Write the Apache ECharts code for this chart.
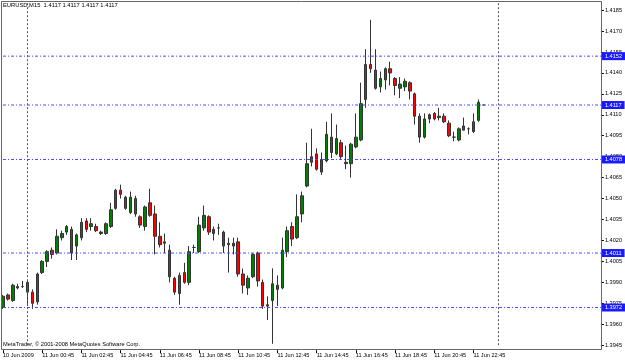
<!DOCTYPE html>
<html lang="en" style="height: 100%">

<head>
  <meta charset="utf-8">
</head>

<body style="height: 100%; margin: 0; background: #fff">
  <div id="container" style="width: 625px; height: 363px"></div>

  <script type="text/javascript" src="https://fastly.jsdelivr.net/npm/echarts@6.0.0/dist/echarts.min.js"></script>

  <script type="text/javascript">
    // EURUSD M15, bars from 10 Jun 2009 22:45 to 11 Jun 23:15
    var opens = [
      1.3972, 1.3981, 1.3977, 1.3987, 1.3987, 1.3990, 1.3983, 1.3976, 1.3997, 1.4005,
      1.4013, 1.4011, 1.4022, 1.4026, 1.4028, 1.4016, 1.4022, 1.4034, 1.4030, 1.4030,
      1.4026, 1.4025, 1.4030, 1.4043, 1.4056, 1.4051, 1.4040, 1.4050, 1.4037, 1.4030,
      1.4047, 1.4039, 1.4023, 1.4019, 1.4013, 1.3993, 1.3982, 1.3997, 1.3990, 1.4015,
      1.4012, 1.4029, 1.4037, 1.4025, 1.4029, 1.4026, 1.4018, 1.4018, 1.4019, 1.3996,
      1.3986, 1.3994, 1.4011, 1.3990, 1.3974, 1.3977, 1.3988, 1.3986, 1.4012, 1.4030,
      1.4022, 1.4039, 1.4059, 1.4076, 1.4082, 1.4069, 1.4077, 1.4094, 1.4082, 1.4090,
      1.4076, 1.4075, 1.4087, 1.4092, 1.4121, 1.4146, 1.4142, 1.4130, 1.4135, 1.4143,
      1.4136, 1.4129, 1.4130, 1.4133, 1.4125, 1.4109, 1.4094, 1.4107, 1.4111, 1.4108,
      1.4109, 1.4104, 1.4094, 1.4092, 1.4102, 1.4100, 1.4098, 1.4106, 1.4117
    ];
    var highs = [
      1.3981, 1.3982, 1.3989, 1.3989, 1.3991, 1.3991, 1.3985, 1.3997, 1.4006, 1.4013,
      1.4015, 1.4028, 1.4027, 1.4031, 1.4030, 1.4025, 1.4036, 1.4036, 1.4036, 1.4032,
      1.4027, 1.4033, 1.4047, 1.4057, 1.4060, 1.4052, 1.4055, 1.4052, 1.4038, 1.4045,
      1.4057, 1.4045, 1.4033, 1.4025, 1.4017, 1.3994, 1.3997, 1.4004, 1.4016, 1.4017,
      1.4037, 1.4045, 1.4038, 1.4030, 1.4032, 1.4027, 1.4022, 1.4022, 1.4022, 1.4000,
      1.3995, 1.4011, 1.4012, 1.3992, 1.3980, 1.4000, 1.3995, 1.4022, 1.4030, 1.4033,
      1.4053, 1.4055, 1.4090, 1.4100, 1.4086, 1.4083, 1.4105, 1.4111, 1.4103, 1.4092,
      1.4088, 1.4090, 1.4111, 1.4133, 1.4157, 1.4178, 1.4157, 1.4141, 1.4144, 1.4148,
      1.4137, 1.4137, 1.4136, 1.4134, 1.4126, 1.4111, 1.4111, 1.4111, 1.4112, 1.4115,
      1.4111, 1.4106, 1.4098, 1.4101, 1.4108, 1.4101, 1.4111, 1.4121, 1.4117
    ];
    var lows = [
      1.3971, 1.3977, 1.3976, 1.3985, 1.3986, 1.3973, 1.3971, 1.3974, 1.3996, 1.4001,
      1.4007, 1.4010, 1.4020, 1.4024, 1.4006, 1.4006, 1.4020, 1.4026, 1.4027, 1.4026,
      1.4024, 1.4024, 1.4029, 1.4042, 1.4050, 1.4042, 1.4039, 1.4037, 1.4029, 1.4027,
      1.4037, 1.4010, 1.4015, 1.4011, 1.3990, 1.3981, 1.3974, 1.3989, 1.3988, 1.4011,
      1.4011, 1.4027, 1.4024, 1.4020, 1.4024, 1.4011, 1.3997, 1.4010, 1.3994, 1.3982,
      1.3981, 1.3993, 1.3987, 1.3971, 1.3963, 1.3946, 1.3973, 1.3985, 1.4008, 1.4016,
      1.4021, 1.4033, 1.4058, 1.4073, 1.4070, 1.4067, 1.4076, 1.4079, 1.4081, 1.4078,
      1.4071, 1.4065, 1.4086, 1.4091, 1.4115, 1.4140, 1.4128, 1.4126, 1.4128, 1.4131,
      1.4124, 1.4122, 1.4127, 1.4121, 1.4103, 1.4090, 1.4093, 1.4104, 1.4106, 1.4106,
      1.4104, 1.4094, 1.4091, 1.4091, 1.4099, 1.4096, 1.4097, 1.4105, 1.4117
    ];
    var closes = [
      1.3980, 1.3978, 1.3988, 1.3986, 1.3987, 1.3983, 1.3975, 1.3996, 1.4005, 1.4012,
      1.4010, 1.4023, 1.4025, 1.4030, 1.4011, 1.4024, 1.4033, 1.4028, 1.4032, 1.4027,
      1.4025, 1.4032, 1.4042, 1.4056, 1.4053, 1.4043, 1.4051, 1.4039, 1.4031, 1.4044,
      1.4038, 1.4023, 1.4017, 1.4018, 1.3994, 1.3983, 1.3995, 1.3990, 1.4012, 1.4015,
      1.4031, 1.4038, 1.4026, 1.4028, 1.4029, 1.4016, 1.4017, 1.4016, 1.3996, 1.3988,
      1.3993, 1.4010, 1.3991, 1.3973, 1.3973, 1.3989, 1.3985, 1.4013, 1.4027, 1.4021,
      1.4037, 1.4052, 1.4075, 1.4080, 1.4071, 1.4078, 1.4096, 1.4083, 1.4093, 1.4080,
      1.4075, 1.4089, 1.4094, 1.4118, 1.4146, 1.4143, 1.4129, 1.4136, 1.4143, 1.4140,
      1.4131, 1.4132, 1.4134, 1.4127, 1.4109, 1.4094, 1.4107, 1.4110, 1.4107, 1.4109,
      1.4105, 1.4095, 1.4094, 1.4100, 1.4099, 1.4100, 1.4105, 1.4119, 1.4117
    ];
    // horizontal lines drawn on the chart
    var levels = [1.4152, 1.4117, 1.4078, 1.4011, 1.3972];
    // day separators
    var separators = ['2009.06.11 00:00', '2009.06.12 00:00'];
    var months = ['Jan', 'Feb', 'Mar', 'Apr', 'May', 'Jun', 'Jul', 'Aug', 'Sep', 'Oct', 'Nov', 'Dec'];

    // time slots: the bars plus the empty space on the right of the chart
    var slotCount = 123;
    var start = Date.UTC(2009, 5, 10, 22, 45);
    function pad(n) { return (n < 10 ? '0' : '') + n; }
    var times = [];
    for (var i = 0; i < slotCount; i++) {
      var d = new Date(start + i * 15 * 60000);
      times.push(d.getUTCFullYear() + '.' + pad(d.getUTCMonth() + 1) + '.' + pad(d.getUTCDate()) +
        ' ' + pad(d.getUTCHours()) + ':' + pad(d.getUTCMinutes()));
    }
    function timeLabel(value, index) {
      var p = value.split(/[. :]/);
      var day = parseInt(p[2], 10) + ' ' + months[parseInt(p[1], 10) - 1];
      if (index === 0) return day + ' ' + p[0];
      return day + ' ' + p[3] + ':' + p[4];
    }
    function showTime(index) {
      return index % 8 === 0 && index < opens.length;
    }

    var bars = opens.map(function (o, i) {
      return [o, closes[i], lows[i], highs[i]];
    });

    var font = 'Liberation Sans';
    var dom = document.getElementById('container');
    var myChart = echarts.init(dom, null, { renderer: 'canvas' });

    var separatorMarks = separators.map(function (t) {
      return { xAxis: t };
    });

    // one flat line per level, across the whole time range, value box at the end
    var levelSeries = levels.map(function (v) {
      return {
        type: 'line',
        data: [[times[0], v], [times[slotCount - 1], v]],
        symbol: 'none',
        silent: true,
        z: 3,
        lineStyle: { color: '#4b4bff', type: [3, 2, 1, 2], width: 1 },
        endLabel: {
          show: true,
          formatter: v.toFixed(4),
          distance: 1,
          color: '#fff',
          backgroundColor: '#1a1aff',
          padding: [1, 3, 1, 3],
          fontFamily: font,
          fontSize: 5.6
        }
      };
    });

    var option = {
      animation: false,
      backgroundColor: '#fff',
      title: {
        text: 'EURUSD,M15  1.4117 1.4117 1.4117 1.4117',
        left: 3,
        top: 2,
        padding: 0,
        textStyle: { fontFamily: font, fontSize: 5.8, fontWeight: 'normal', color: '#000' }
      },
      grid: { left: 2.3, right: 23.3, top: 1, bottom: 17.8 },
      xAxis: {
        type: 'category',
        data: times,
        boundaryGap: false,
        offset: 5,
        axisLine: { show: false },
        axisTick: { interval: showTime, length: 3, lineStyle: { color: '#000' } },
        axisLabel: {
          interval: showTime,
          formatter: timeLabel,
          align: 'left',
          margin: 2,
          fontFamily: font,
          fontSize: 5.6,
          color: '#000'
        },
        splitLine: { show: false }
      },
      yAxis: {
        type: 'value',
        position: 'right',
        min: 1.3945,
        max: 1.41915,
        interval: 0.0015,
        scale: true,
        axisLine: { show: false },
        axisTick: { show: true, length: 3, lineStyle: { color: '#000' } },
        axisLabel: {
          showMaxLabel: false,
          margin: 4,
          formatter: function (v) { return v.toFixed(4); },
          fontFamily: font,
          fontSize: 5.6,
          color: '#000'
        },
        splitLine: { show: false }
      },
      graphic: [
        {
          type: 'rect',
          shape: { x: 1.5, y: 1.5, width: 600, height: 348 },
          style: { fill: null, stroke: '#666', lineWidth: 1 },
          silent: true,
          z: 10
        },
        {
          type: 'text',
          left: 3,
          top: 341,
          style: {
            text: 'MetaTrader, \u00a9 2001-2008 MetaQuotes Software Corp.',
            font: '5.7px "Liberation Sans"',
            fill: '#000'
          },
          silent: true
        }
      ],
      series: [
        {
          type: 'candlestick',
          data: bars,
          barWidth: 3,
          itemStyle: {
            color: '#008000',
            color0: '#ff0000',
            borderColor: '#333',
            borderColor0: '#333',
            borderColorDoji: '#333',
            borderWidth: 1
          }
        },
        {
          // day separators
          type: 'line',
          data: [],
          color: '#555',
          markLine: {
            silent: true,
            symbol: 'none',
            animation: false,
            label: { show: false },
            lineStyle: { color: '#555', type: [2, 2], width: 1 },
            data: separatorMarks
          }
        }
      ].concat(levelSeries)
    };

    myChart.setOption(option);
    window.addEventListener('resize', myChart.resize);
  </script>
</body>

</html>
